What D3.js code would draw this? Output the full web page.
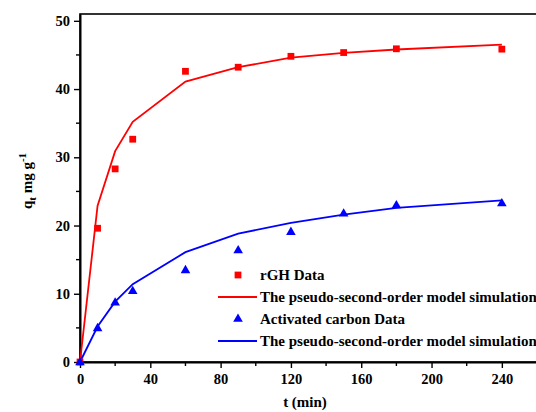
<!DOCTYPE html>
<html>
<head>
<meta charset="utf-8">
<script src="https://cdn.jsdelivr.net/npm/d3@7"></script>
<style>
  body { margin: 0; background: #fff; }
  svg { display: block; }
  text { font-family: "Liberation Serif", "Times New Roman", serif; font-weight: bold; }
</style>
</head>
<body>
<svg width="536" height="412"></svg>
<script>
// Data
const times = [0, 10, 20, 30, 60, 90, 120, 150, 180, 240];
const rghData = [0, 19.6, 28.3, 32.65, 42.6, 43.2, 44.8, 45.35, 45.9, 45.85];
const rghModel = [0, 22.9, 30.9, 35.2, 41.1, 43.2, 44.6, 45.3, 45.8, 46.5];
const acData = [0, 5.0, 8.75, 10.45, 13.5, 16.4, 19.1, 21.8, 23.0, 23.3];
const acModel = [0, 5.2, 8.85, 11.4, 16.1, 18.8, 20.4, 21.6, 22.6, 23.7];
const xTicks = [0, 40, 80, 120, 160, 200, 240];
const yTicks = [0, 10, 20, 30, 40, 50];
const legendLabels = ["rGH Data", "The pseudo-second-order model simulation",
                      "Activated carbon Data", "The pseudo-second-order model simulation"];

const svg = d3.select("svg");

// scales (right edge of frame falls just outside the picture)
const x = d3.scaleLinear().domain([0, 260]).range([80, 537]);
const y = d3.scaleLinear().domain([0, 51]).range([362, 14]);

// frame
svg.append("rect")
  .attr("x", x(0)).attr("y", y(51))
  .attr("width", x(260) - x(0)).attr("height", y(0) - y(51))
  .attr("fill", "none").attr("stroke", "#000").attr("stroke-width", 1.6);

// minor ticks
const xMinor = d3.range(20, 260, 40);
const yMinor = d3.range(5, 51, 10);
svg.append("g").selectAll("line").data(xMinor).join("line")
  .attr("x1", d => x(d)).attr("x2", d => x(d))
  .attr("y1", y(0)).attr("y2", y(0) + 4)
  .attr("stroke", "#000").attr("stroke-width", 1.4);
svg.append("g").selectAll("line").data(yMinor).join("line")
  .attr("x1", x(0) - 4).attr("x2", x(0))
  .attr("y1", d => y(d)).attr("y2", d => y(d))
  .attr("stroke", "#000").attr("stroke-width", 1.4);

// axes
const xAxis = svg.append("g")
  .attr("transform", `translate(0,${y(0)})`)
  .call(d3.axisBottom(x).tickValues(xTicks).tickSize(6).tickPadding(6).tickSizeOuter(0));
const yAxis = svg.append("g")
  .attr("transform", `translate(${x(0)},0)`)
  .call(d3.axisLeft(y).tickValues(yTicks).tickSize(6).tickPadding(4).tickSizeOuter(0));
[xAxis, yAxis].forEach(g => {
  g.select(".domain").attr("stroke-width", 2);
  g.selectAll(".tick line").attr("stroke-width", 1.4);
  g.selectAll(".tick text")
    .attr("fill", "#000")
    .style("font-family", "'Liberation Serif', serif")
    .style("font-weight", "bold")
    .style("font-size", "14.5px");
});

// axis titles
svg.append("text")
  .attr("x", 305).attr("y", 407)
  .attr("text-anchor", "middle")
  .style("font-size", "15px")
  .text("t (min)");

const yTitle = svg.append("text")
  .attr("transform", "translate(32,181) rotate(-90)")
  .attr("text-anchor", "middle")
  .style("font-size", "15px");
yTitle.append("tspan").text("q");
yTitle.append("tspan").attr("dy", 4).style("font-size", "11px").text("t");
yTitle.append("tspan").attr("dy", -4).text(" mg g");
yTitle.append("tspan").attr("dy", -6).style("font-size", "11px").text("-1");

// model lines
const line = d3.line().x((d, i) => x(times[i])).y(d => y(d));
svg.append("path").datum(rghModel)
  .attr("d", line).attr("fill", "none").attr("stroke", "#ff0000").attr("stroke-width", 1.8);
svg.append("path").datum(acModel)
  .attr("d", line).attr("fill", "none").attr("stroke", "#0000ff").attr("stroke-width", 1.8);

// data markers
const square = d3.symbol().type(d3.symbolSquare).size(46);
const triangle = d3.symbol().type(d3.symbolTriangle).size(40);
svg.append("g").selectAll("path").data(rghData).join("path")
  .attr("d", square)
  .attr("transform", (d, i) => `translate(${x(times[i])},${y(d)})`)
  .attr("fill", "#ff0000");
svg.append("g").selectAll("path").data(acData).join("path")
  .attr("d", triangle)
  .attr("transform", (d, i) => `translate(${x(times[i])},${y(d) + 0.5})`)
  .attr("fill", "#0000ff");

// legend
const legendColors = ["#ff0000", "#ff0000", "#0000ff", "#0000ff"];
const legendKinds = ["square", "line", "triangle", "line"];
const legend = svg.append("g").selectAll("g").data(legendLabels).join("g")
  .attr("transform", (d, i) => `translate(0,${275 + i * 22})`);
legend.each(function(d, i) {
  const g = d3.select(this);
  if (legendKinds[i] === "line") {
    g.append("line").attr("x1", 218).attr("x2", 257).attr("y1", 0).attr("y2", 0)
      .attr("stroke", legendColors[i]).attr("stroke-width", 1.8);
  } else {
    g.append("path")
      .attr("d", legendKinds[i] === "square" ? square : triangle)
      .attr("transform", "translate(238,0)")
      .attr("fill", legendColors[i]);
  }
  g.append("text").attr("x", 260).attr("y", 5)
    .style("font-size", "15px")
    .text(d);
});
</script>
</body>
</html>
